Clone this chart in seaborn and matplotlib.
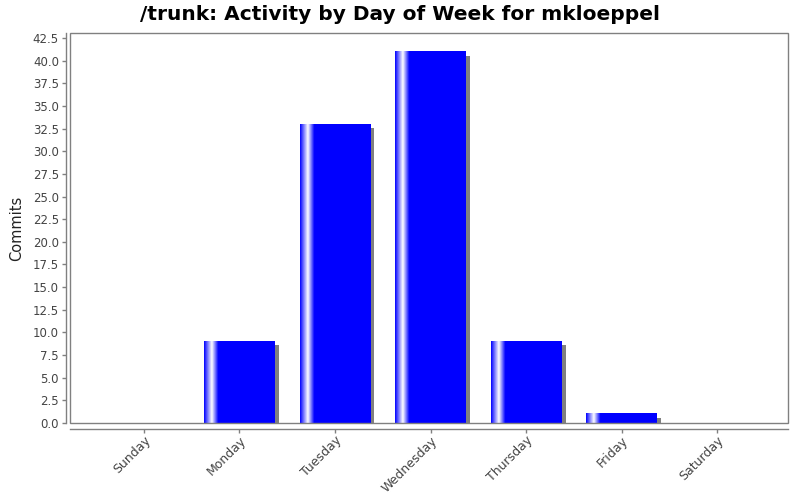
import matplotlib
matplotlib.use("Agg")
import matplotlib.pyplot as plt
from matplotlib.colors import LinearSegmentedColormap
from matplotlib.patches import Rectangle
import numpy as np
import pandas as pd
import seaborn as sns

# Data
days = ["Sunday", "Monday", "Tuesday", "Wednesday", "Thursday", "Friday", "Saturday"]
commits = [0, 9, 33, 41, 9, 1, 0]
y_ticks = [i * 2.5 for i in range(18)]

df = pd.DataFrame({"Day": days, "Commits": commits})

sns.set_theme(style="white")
plt.rcParams["font.family"] = ["DejaVu Sans"]

fig = plt.figure(figsize=(8, 5), dpi=100)
ax = fig.add_axes([0.0875, 0.154, 0.8975, 0.78])

sns.barplot(data=df, x="Day", y="Commits", color="#0000ff", width=0.74,
            saturation=1, linewidth=0, ax=ax, zorder=2)

# JFreeChart-like gradient stripe and drop shadow
grad_cmap = LinearSegmentedColormap.from_list(
    "bar", [(0, "#0000ff"), (0.11, "#ffffff"), (0.2, "#0000ff"), (1, "#0000ff")])
grad = np.linspace(0, 1, 256).reshape(1, -1)
for p in list(ax.patches):
    h = p.get_height()
    if h <= 0:
        continue
    x0, w = p.get_x(), p.get_width()
    ax.add_patch(Rectangle((x0 + 0.042, 0), w, max(h - 0.44, 0),
                           facecolor="#808080", edgecolor="none", zorder=1.5))
    ax.imshow(grad, extent=[x0, x0 + w, 0, h], aspect="auto", cmap=grad_cmap,
              zorder=2.5, interpolation="bilinear")

ax.set_xlim(-0.773, 6.74)
ax.set_ylim(0, 43.05)
ax.set_yticks(y_ticks)
ax.set_yticklabels([f"{v:.1f}" for v in y_ticks])
ax.set_xticks(range(len(days)))
ax.set_xticklabels(days)

ax.set_xlabel("")
ax.set_ylabel("Commits", fontsize=10.5, color="#222222", labelpad=6)

ax.tick_params(axis="both", which="both", direction="out", length=3, width=1,
               color="#808080", labelsize=8.5, labelcolor="#444444", pad=2,
               bottom=True, left=True)
ax.tick_params(axis="x", length=3, pad=1, labelsize=9, labelrotation=45)

for side in ["top", "right"]:
    ax.spines[side].set_visible(False)
for side in ["left", "bottom"]:
    ax.spines[side].set_color("#808080")
    ax.spines[side].set_linewidth(1)
ax.spines["left"].set_position(("outward", 3))
ax.spines["bottom"].set_position(("outward", 4))

# plot area border
ax.add_patch(Rectangle((0, 0), 1, 1, transform=ax.transAxes, fill=False,
                       edgecolor="#808080", linewidth=1, clip_on=False, zorder=5))

fig.text(0.5, 1 - 14 / 500, "/trunk: Activity by Day of Week for mkloeppel",
         ha="center", va="center", fontsize=14.5, fontweight="bold",
         color="black")

for lbl in ax.get_xticklabels():
    lbl.set_horizontalalignment("right")
    lbl.set_verticalalignment("top")
    lbl.set_rotation_mode("anchor")

fig.savefig("out.png", dpi=100, facecolor="white")
